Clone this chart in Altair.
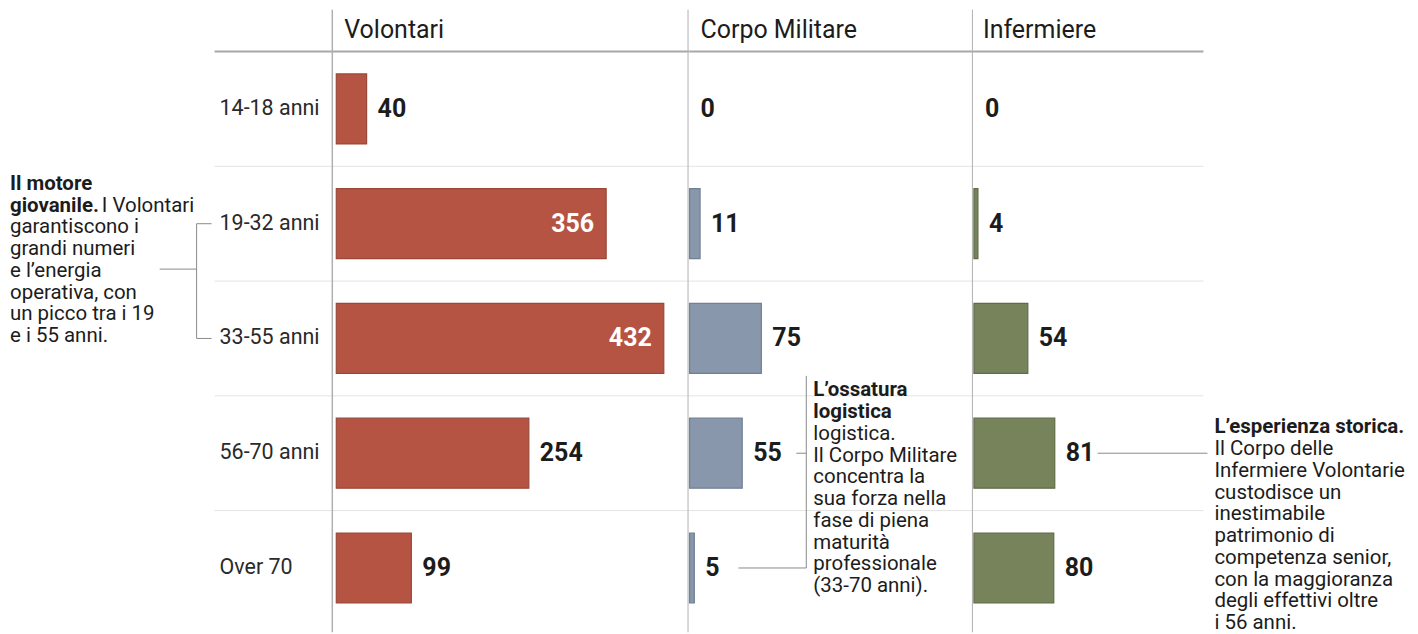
import altair as alt
import pandas as pd

# ---- data ----
ages = ["14-18 anni", "19-32 anni", "33-55 anni", "56-70 anni", "Over 70"]
groups = ["Volontari", "Corpo Militare", "Infermiere"]
volontari = [40, 356, 432, 254, 99]
corpo_militare = [0, 11, 75, 55, 5]
infermiere = [0, 4, 54, 81, 80]

ann_left_bold = ["Il motore", "giovanile."]
ann_left_first = ["I Volontari"]
ann_left = ["garantiscono i", "grandi numeri", "e l’energia", "operativa, con",
            "un picco tra i 19", "e i 55 anni."]
ann_mid_bold = ["L’ossatura", "logistica"]
ann_mid = ["logistica.", "Il Corpo Militare", "concentra la", "sua forza nella",
           "fase di piena", "maturità", "professionale", "(33-70 anni)."]
ann_right_bold = ["L’esperienza storica."]
ann_right = ["Il Corpo delle", "Infermiere Volontarie", "custodisce un", "inestimabile",
             "patrimonio di", "competenza senior,", "con la maggioranza",
             "degli effettivi oltre", "i 56 anni."]

# ---- style ----
FONT = "Roboto"
TXT = "#1c1c1c"
fills = ["#b34b3b", "#8292a7", "#6f7d53"]
strokes = ["#93402f", "#6a7a8f", "#58653f"]
widths = [354, 285, 230]
xmax = [466, 297, 230]
H = 575
LH = 21.8


def one_row(**kw):
    return pd.DataFrame({k: [v] for k, v in kw.items()})


yenc = alt.Y("age:N", sort=ages, axis=None,
             scale=alt.Scale(domain=ages, paddingInner=0.39, paddingOuter=0.195))


def rule(x, x2, y, y2, color="#8a8a8a", w=1.0):
    return alt.Chart(one_row(k=0)).mark_rule(color=color, strokeWidth=w).encode(
        x=alt.value(x), x2=alt.value(x2), y=alt.value(y), y2=alt.value(y2))


def block(lines, x, y, bold=False, size=20.5):
    return alt.Chart(one_row(t="\n".join(lines))).mark_text(
        align="left", baseline="alphabetic", font=FONT, fontSize=size,
        fontWeight="bold" if bold else "normal", lineHeight=LH, color=TXT,
        lineBreak="\n"
    ).encode(x=alt.value(x), y=alt.value(y), text="t:N")


def panel(i, vals, extra, left_x=0, vline_x=-1.5, head_x=10):
    w = widths[i]
    df = pd.DataFrame({"age": ages, "value": vals})
    xenc = alt.X("value:Q", axis=None,
                 scale=alt.Scale(domain=[0, xmax[i]], nice=False, zero=True))
    seps = alt.Chart(pd.DataFrame({"age": ages[1:]})).mark_rule(
        color="#e3e3e3", strokeWidth=1, yOffset=-57.5
    ).encode(y=yenc, x=alt.value(left_x), x2=alt.value(w))
    header_line = rule(left_x, w, 0, 0, color="#a8a8a8", w=2)
    vline = rule(vline_x, vline_x, -42, 582, color="#b0b0b0", w=1.5 if i == 0 else 1)
    bars = alt.Chart(df).transform_filter("datum.value > 0").mark_bar(
        fill=fills[i], stroke=strokes[i], strokeWidth=1.2, opacity=0.95
    ).encode(x=xenc, y=yenc)
    layers = [seps, header_line, vline, bars]
    if i == 0:
        out = alt.Chart(df).transform_filter("datum.value < 300")
        ins = alt.Chart(df).transform_filter("datum.value >= 300").mark_text(
            align="right", baseline="middle", dx=-12, font=FONT, fontSize=25,
            fontWeight="bold", color="white").encode(x=xenc, y=yenc, text="value:Q")
    else:
        out = alt.Chart(df)
        ins = None
    outl = out.mark_text(
        align="left", baseline="middle", dx=11, font=FONT, fontSize=25,
        fontWeight="bold", color=TXT).encode(x=xenc, y=yenc, text="value:Q")
    layers.append(outl)
    if ins is not None:
        layers.append(ins)
    head = alt.Chart(one_row(g=groups[i])).mark_text(
        align="left", baseline="middle", font=FONT, fontSize=25, color=TXT
    ).encode(x=alt.value(head_x), y=alt.value(-22), text="g:N")
    layers.append(head)
    layers += extra
    return alt.layer(*layers).properties(width=w, height=H)


# panel 1 extras: row labels, left annotation and bracket
row_labels = alt.Chart(pd.DataFrame({"age": ages})).mark_text(
    align="left", baseline="middle", font=FONT, fontSize=21.5, color="#2a2a2a"
).encode(x=alt.value(-117), y=yenc, text="age:N")
extra1 = [
    row_labels,
    block(ann_left_bold, -327, 138.5, bold=True),
    block(ann_left_first, -235, 138.5 + LH),
    block(ann_left, -327, 138.5 + 2 * LH),
    rule(-140, -140, 172.5, 287.5),
    rule(-140, -125, 172.5, 172.5),
    rule(-140, -125, 287.5, 287.5),
    rule(-177, -140, 218, 218),
]
extra2 = [
    block(ann_mid_bold, 124, 345.5, bold=True),
    block(ann_mid, 124, 345.5 + 2 * LH),
    rule(117, 117, 325, 517.5),
    rule(107, 117, 402.5, 402.5),
    rule(49, 117, 517.5, 517.5),
]
extra3 = [
    block(ann_right_bold, 241, 382.5, bold=True),
    block(ann_right, 241, 382.5 + LH),
    rule(124, 234, 402.5, 402.5),
]

p1 = panel(0, volontari, extra1, left_x=-122, vline_x=-4, head_x=8)
p2 = panel(1, corpo_militare, extra2, head_x=11)
p3 = panel(2, infermiere, extra3, head_x=9)

chart = alt.hconcat(p1, p2, p3, spacing=0, bounds="flush").properties(
    padding={"left": 2, "top": 0, "right": 4, "bottom": 2},
    background="white",
).configure_view(stroke=None)

chart.save("out.html", embed_options={"renderer": "svg", "actions": False})
